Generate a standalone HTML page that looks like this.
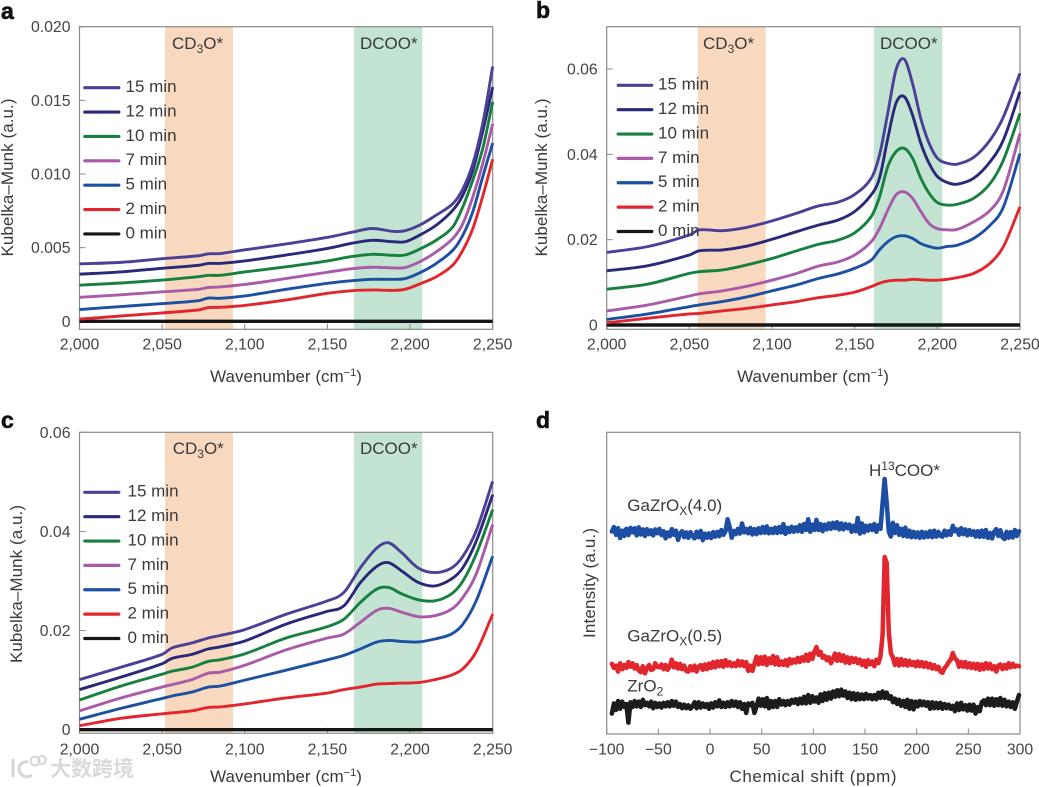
<!DOCTYPE html>
<html lang="en">
<head>
<meta charset="utf-8">
<title>Kubelka-Munk spectra and NMR</title>
<style>
html,body{margin:0;padding:0;background:#fff;}
svg{display:block;font-family:"Liberation Sans","Noto Sans CJK SC",sans-serif;}
.lbl{font-size:17px;fill:#3a3a3a;}
.tick{font-size:15.8px;fill:#444;}
.title{font-size:17px;fill:#3a3a3a;}
.letter{font-size:23px;font-weight:bold;fill:#111;stroke:#111;stroke-width:0.6;}
</style>
</head>
<body>
<svg id="fig" width="1039" height="787" viewBox="0 0 1039 787" xmlns="http://www.w3.org/2000/svg">
  <rect width="1039" height="787" fill="#fff"/>
  <g id="layer"></g>

  <text class="letter" x="1" y="19">a</text>
  <text class="letter" x="536" y="18">b</text>
  <text class="letter" x="1" y="428">c</text>
  <text class="letter" x="536" y="428">d</text>

  <text class="title" x="286" y="382" text-anchor="middle">Wavenumber (cm<tspan dy="-6" font-size="11">−1</tspan><tspan dy="6">)</tspan></text>
  <text class="title" x="813" y="382" text-anchor="middle">Wavenumber (cm<tspan dy="-6" font-size="11">−1</tspan><tspan dy="6">)</tspan></text>
  <text class="title" x="286" y="782" text-anchor="middle">Wavenumber (cm<tspan dy="-6" font-size="11">−1</tspan><tspan dy="6">)</tspan></text>
  <text class="title" x="813" y="782" text-anchor="middle" textLength="167">Chemical shift (ppm)</text>

  <text class="title" transform="translate(13 177.5) rotate(-90)" text-anchor="middle" textLength="158">Kubelka–Munk (a.u.)</text>
  <text class="title" transform="translate(547 177.5) rotate(-90)" text-anchor="middle" textLength="158">Kubelka–Munk (a.u.)</text>
  <text class="title" transform="translate(22 584) rotate(-90)" text-anchor="middle" textLength="158">Kubelka–Munk (a.u.)</text>
  <text class="title" transform="translate(595 583) rotate(-90)" text-anchor="middle" textLength="110">Intensity (a.u.)</text>

  <text x="50" y="776" font-size="21" font-weight="bold" fill="#dadada" font-family="&quot;Liberation Sans&quot;,&quot;Noto Sans CJK SC&quot;,sans-serif">大数跨境</text>
  <g fill="none" stroke="#d6d6d6" stroke-width="3">
    <path d="M13 759 V777"/>
    <path d="M28 762 C17 760 15 776 28 777 L32 775"/>
    <circle cx="35" cy="761" r="4.5" stroke-width="2"/>
    <circle cx="42" cy="760" r="4" stroke-width="2"/>
  </g>
</svg>
<script>
/* ---- panel a ---- */
var aWavenumbers = [2000,2025,2050,2072,2078,2085,2100,2125,2150,2165,2177,2190,2197,2206,2216,2226,2232,2238,2244,2250];
var a15 = [3.9,4.0,4.25,4.45,4.58,4.6,4.85,5.25,5.7,6.05,6.3,6.1,6.15,6.54,7.22,8.0,9.0,10.7,13.44,17.3];
var a12 = [3.2,3.35,3.6,3.8,3.93,3.93,4.1,4.5,4.95,5.3,5.5,5.4,5.4,5.86,6.54,7.56,8.58,10.27,12.9,15.9];
var a10 = [2.45,2.6,2.8,3.03,3.12,3.12,3.35,3.7,4.1,4.4,4.55,4.48,4.5,4.91,5.52,6.43,7.79,9.6,11.75,14.9];
var a7 = [1.63,1.8,2.0,2.17,2.3,2.33,2.5,2.9,3.33,3.57,3.67,3.62,3.65,4.05,4.73,5.64,6.65,8.46,10.73,13.4];
var a5 = [0.8,1.0,1.2,1.4,1.58,1.56,1.72,2.17,2.58,2.76,2.85,2.85,2.9,3.3,3.94,4.84,5.86,7.45,9.82,12.1];
var a2 = [0.15,0.36,0.57,0.77,0.93,0.95,1.08,1.45,1.9,2.08,2.13,2.1,2.17,2.54,3.03,3.83,4.84,6.3,8.5,11];
var a0 = [0,0,0,0,0,0,0,0,0,0,0,0,0,0,0,0,0,0,0,0];
var aYTicks = [0,5,10,15,20];
var aYLabels = ['0','0.005','0.010','0.015','0.020'];

/* ---- panel b ---- */
var bWavenumbers = [2000,2025,2050,2056,2070,2085,2100,2115,2128,2140,2150,2160,2165,2170,2175,2180,2185,2190,2195,2200,2206,2212,2222,2232,2240,2250];
var b15 = [17,18.4,21.1,22.3,22.1,22.9,24.4,26.2,27.9,28.8,30.6,34.4,39.8,49.6,59.8,62.3,56.6,48.4,42.6,39.1,37.9,37.7,39.3,43.4,48.8,59];
var b12 = [12.7,13.9,16.4,17.4,17.6,18.5,20.1,21.9,23.4,24.6,26.6,30.5,34.4,43.7,52,53.5,49.2,42.6,37.9,34.8,33.4,33,34.4,38.3,43.4,54.7];
var b10 = [8.4,9.6,12.1,12.5,12.9,14.1,15.6,17.4,18.9,19.9,21.6,25.4,30,37.1,40.6,41.4,39.1,34.4,30.9,28.7,28.1,28.3,29.7,33.2,38.7,49.6];
var b7 = [3.3,4.7,6.8,7.3,8,9.1,10.5,12.1,13.8,14.8,16.4,19.5,22.6,26.9,30.5,31.2,29.7,26.6,23.8,22.6,22.3,22.4,24.2,26.9,31.6,44.9];
var b5 = [1.3,2.6,4.3,4.7,5.5,6.6,8,9.4,10.9,12,13.3,15.2,17.6,19.5,20.7,20.9,20.3,19.1,18.4,18,18.4,18.7,20.3,23.4,27.7,40.2];
var b2 = [0.5,1.6,2.6,2.7,3.3,3.9,4.7,5.5,6.4,7,7.7,9,9.8,10.3,10.5,10.5,10.7,10.6,10.5,10.5,10.7,11.1,12.1,14.5,18.4,27.7];
var b0 = [0,0,0,0,0,0,0,0,0,0,0,0,0,0,0,0,0,0,0,0,0,0,0,0,0,0];
var bYTicks = [0,20,40,60];
var bYLabels = ['0','0.02','0.04','0.06'];

/* ---- panel c ---- */
var cWavenumbers = [2000,2025,2050,2056,2068,2078,2085,2100,2125,2150,2160,2170,2180,2187,2195,2205,2215,2225,2232,2240,2250];
var c15 = [10.1,12.6,15.2,16.5,17.5,18.5,19,20.2,23.3,26,27.7,32.7,36.7,37.7,35.7,32.6,31.7,32.6,35,40.1,50.1];
var c12 = [8.1,10.6,13.3,14.4,15.2,16.3,16.7,17.9,21.3,23.9,25,29.7,33,33.7,32,29.7,29,30.4,32.7,38,47.4];
var c10 = [6,8.8,11.2,11.8,12.6,13.8,14.1,15.3,18.5,20.8,22.3,25.7,28.4,28.7,27.4,26.2,26,27.4,30,35.4,44.4];
var c7 = [3.8,6.4,8.6,9.1,10.1,11.4,11.6,13,16.1,18.5,19.3,21.7,24.1,24.5,23.7,22.8,23,24.3,26.7,31.4,41.4];
var c5 = [2.1,4.3,6.3,6.8,7.6,8.6,8.8,10,12,14.1,15,16.3,17.7,18,17.8,17.7,18.3,19.3,21.3,26,35];
var c2 = [0.8,2.3,3.2,3.4,3.8,4.5,4.6,5.2,6.4,7.4,8.1,8.6,9.2,9.3,9.4,9.5,10.1,11,12.3,15.7,23.3];
var c0 = [0,0,0,0,0,0,0,0,0,0,0,0,0,0,0,0,0,0,0,0,0];
var cYTicks = [0,20,40,60];
var cYLabels = ['0','0.02','0.04','0.06'];

/* ---- shared ---- */
var xTicksWave = [2000,2050,2100,2150,2200,2250];
var xLabelsWave = ['2,000','2,050','2,100','2,150','2,200','2,250'];
var seriesLabels = ['15 min','12 min','10 min','7 min','5 min','2 min','0 min'];

/* ---- panel d: samples start at -95 ppm and advance 2 ppm each ---- */
var dStartPpm = -95;
var dStepPpm = 2;
var dBlue = [
67.5,69,66.4,68.6,65.3,67.8,66,68.4,66.3,68.7,
67.2,68.6,66.2,68.9,66.5,68.2,66,68.3,66.6,67.9,
66.2,68.2,66.9,68.4,66.3,67.6,65.2,67.2,65.9,68.3,
66.4,67.8,64.7,66.8,67.6,65.6,67.2,65.4,67.3,66,
65.2,67.4,65.6,67.7,64.6,66.8,65.4,66.9,65.3,67.3,
65.8,67.4,65.9,68,66.4,67.6,71.6,69,65.4,67.7,
66.6,68.4,66.8,70.2,67.2,68.4,66.9,68.7,66.5,68.3,
66.6,68.6,67,69,67.1,69.2,66.9,68.4,67,68.8,
67,69,67.2,70,66.7,68.7,67.3,69.1,67.4,68.9,
67.6,69.6,67.4,70,68,71.6,67.4,69.8,68,71.4,
68,70,67.6,69.8,68.2,70.2,68.4,70.4,68.6,70.6,
68.2,70.2,68.2,70,68.6,69.8,67.4,69.4,67.6,72,
66.8,70.2,67.2,69.4,67.8,69.6,68,70,67.4,69.6,
68.4,77,85,77,67.5,65.8,70.4,67,69.6,66.4,
68.4,66,68.8,65.8,67.8,65.6,67.4,65.6,67.2,65.4,
67.4,65.5,67.2,65.7,67.6,65.6,67.8,65.8,67.4,66,
65.8,67.8,66.2,67.6,66.4,69.4,67.6,68.2,66.4,68.6,
66.6,68.2,66.2,68,66.4,67.6,65.8,67.6,65.7,67.8,
65.7,68,65.4,67,65.2,67.4,68.3,66,67.9,65.6,
65,67.4,65.4,67.3,65.5,68,66,67.6];
var dRed = [
23.4,22,22.8,20.8,23.6,21.6,23,22,24,22.4,
23.6,21.8,23,21.2,20.6,22.6,20.2,22,23,21.4,
21.6,23.6,22.4,22.2,23.2,21.6,23,21.4,22.6,24.8,
22.2,23.6,21.8,23.4,21.6,22.8,21,20.8,22.6,21.2,
22.8,20.8,22.4,23,21.4,23.2,21.6,23.5,22,24,
22.2,24.2,22.6,24.3,22.4,24.6,22.8,24,22.6,23.6,
22.6,24.4,22.8,24.2,22.6,24,21,22.8,21,23.4,
25.8,23.2,25.6,23.4,25.8,23,25.2,23.6,26,23.2,
25.6,23,24.2,23,24.6,22.8,25,23.6,24.8,23.8,
25.4,24,25.6,24.4,26.4,24.4,26.8,25,27.4,29,
26.4,27.4,25.4,26,24.6,25.6,23.6,25,26.8,24.4,
26.6,24.4,26.2,23.8,25.6,23.6,25.4,24,25.2,23.6,
24.8,23,24.4,22.4,24.6,23.2,24.2,22.6,24.8,23.6,
26,33,59,57,34,27,25.5,23,25,22.8,
25,23,24.6,22.8,24.4,23,24,22.6,24.2,22.6,
24,22.4,23.8,22.2,23.4,21.8,23,21.6,22.4,20.8,
20.4,22,22.8,24,24.8,27,25.2,24.6,22.4,24,
22.4,24,22.2,23.6,22,23.4,21.8,23.4,21.4,23.2,
21.6,23.6,21.8,23.4,21.6,22.6,20.8,22.8,23.2,21.6,
23,21.8,23.6,22.2,23.4,22.4,22.8,22.6];
var dBlack = [
6.8,10.2,8,11,8.4,10.8,9,10,3.8,10.6,
9,11,9.2,10.8,9,11.4,9.6,10.4,9.2,10.8,
8.6,10.4,9,10.2,8.8,10.4,9.2,10.6,9.2,11,
9.4,10.8,9,10,8.6,9.8,8.6,9.6,8.4,9.2,
10.6,8.6,10.6,8.8,10.2,9,10,8.4,10.2,8.8,
10.6,9.2,11.2,9,10.4,9,10.6,9.2,11,9.4,
10.8,9,10.6,8.4,10,7,10.2,9.6,10.4,7,
9.2,11.8,9.4,11.6,9.2,12,8.6,11,9,11,
9,11.6,9.8,11,9.6,11,9.8,11.4,10.4,11.6,
10,11.8,10.2,12.4,10.2,13,10.4,12.6,10.8,12.2,
10.4,13.2,11,13.6,11.4,13.8,11.8,14.2,12.4,14.6,
12.6,14.8,12.8,14.2,12,13.8,11.6,13.6,11.4,13.4,
11.6,13.2,11.6,13.4,11.8,13,11.6,13,11.6,13.8,
12,14.2,12,13.8,11.8,12.6,10.6,11.8,10,11.4,
9.4,11,9,11.4,8.4,11,8.2,10.8,9.2,11,
9.6,10.8,9.4,10.6,8.4,10.6,8.6,10.4,8.6,10.4,
8.4,10,8.6,9.8,8.4,9.4,7.6,10.2,8,10.4,
8.2,9.6,7.8,9.8,7.8,9.8,6.8,9,7.6,10.6,
11.2,9.6,11.8,9.6,11.8,9.4,11.6,9.6,12,9.4,
11.4,9.2,10.8,9,10.6,8.4,10.8,13];
var dXTicks = [-100,-50,0,50,100,150,200,250,300];
var dXLabels = ['−100','−50','0','50','100','150','200','250','300'];

/* ---- drawing ---- */
var NS = 'http://www.w3.org/2000/svg';
var layer = document.getElementById('layer');
var palette = ['#4c4096','#2a2878','#17803f','#a95aa8','#1e50a2','#e2262e','#161616'];

function make(tag, attrs, parent) {
  var el = document.createElementNS(NS, tag);
  for (var k in attrs) { el.setAttribute(k, attrs[k]); }
  (parent || layer).appendChild(el);
  return el;
}
function linearScale(d0, d1, r0, r1) {
  return function (v) { return r0 + (v - d0) * (r1 - r0) / (d1 - d0); };
}
function smoothPath(xs, ys, sx, sy) {
  var p = xs.map(function (x, i) { return [sx(x), sy(ys[i])]; });
  var d = 'M' + p[0][0].toFixed(2) + ' ' + p[0][1].toFixed(2);
  for (var i = 0; i < p.length - 1; i++) {
    var a = p[Math.max(i - 1, 0)], b = p[i], c = p[i + 1], e = p[Math.min(i + 2, p.length - 1)];
    var h = c[0] - b[0];
    var m1 = (c[1] - a[1]) / Math.max(c[0] - a[0], 0.01);
    var m2 = (e[1] - b[1]) / Math.max(e[0] - b[0], 0.01);
    d += 'C' + (b[0] + h / 3).toFixed(2) + ' ' + (b[1] + m1 * h / 3).toFixed(2) + ' ' +
         (c[0] - h / 3).toFixed(2) + ' ' + (c[1] - m2 * h / 3).toFixed(2) + ' ' +
         c[0].toFixed(2) + ' ' + c[1].toFixed(2);
  }
  return d;
}
function noisePath(ys, sx, sy) {
  return ys.map(function (v, i) {
    return (i ? 'L' : 'M') + sx(dStartPpm + i * dStepPpm).toFixed(2) + ' ' + sy(v).toFixed(2);
  }).join('');
}
function drawFrame(prefix, box) {
  var el = make('rect', { x: box.l, y: box.t, width: box.r - box.l, height: box.b - box.t, fill: 'none', stroke: '#8a8a8a', 'stroke-width': 1.2 });
  
  
}
function drawXTicks(prefix, box, sx, ticks, labels, baseline) {
  ticks.forEach(function (t, i) {
    var tk = make('line', { x1: sx(t), x2: sx(t), y1: box.b, y2: box.b - 5.5, stroke: '#8a8a8a', 'stroke-width': 1 });
    
    
    var tx = make('text', { x: sx(t), y: baseline, 'text-anchor': 'middle', 'class': 'tick' });
    
    
    tx.textContent = labels[i];
  });
}
function drawYTicks(prefix, box, sy, ticks, labels) {
  ticks.forEach(function (t, i) {
    var tk = make('line', { x1: box.l, x2: box.l + 6, y1: sy(t), y2: sy(t), stroke: '#8a8a8a', 'stroke-width': 1 });
    
    
    var tx = make('text', { x: box.l - 9, y: sy(t) + 5.5, 'text-anchor': 'end', 'class': 'tick' });
    
    
    tx.textContent = labels[i];
  });
}
function addSubText(parent, before, sub, after, subDy) {
  var t1 = document.createTextNode(before);
  parent.appendChild(t1);
  var s = make('tspan', { dy: subDy, 'font-size': 12 }, parent);
  s.textContent = sub;
  var r = make('tspan', { dy: -subDy }, parent);
  r.textContent = after;
}
function drawSpectrumPanel(prefix, box, wn, series, yZeroPx, yTopValue, yTopPx, yTicks, yLabels, bands, legend, labelY, cd3x, dcoox, tickBaseline) {
  var sx = linearScale(2000, 2250, box.l, box.r);
  var sy = linearScale(0, yTopValue, yZeroPx, yTopPx);

  var b1 = make('rect', { x: bands.ox0, y: box.t, width: bands.ox1 - bands.ox0, height: box.b - box.t, fill: '#f8d9bf' });
  
  
  var b2 = make('rect', { x: bands.gx0, y: box.t, width: bands.gx1 - bands.gx0, height: box.b - box.t, fill: '#c3e4d2' });
  
  

  drawFrame(prefix, box);
  drawXTicks(prefix, box, sx, xTicksWave, xLabelsWave, tickBaseline);
  drawYTicks(prefix, box, sy, yTicks, yLabels);

  for (var i = series.length - 1; i >= 0; i--) {
    var c = make('path', { d: smoothPath(wn, series[i], sx, sy), fill: 'none', stroke: palette[i], 'stroke-width': i === 6 ? 3.4 : 2.9, 'stroke-linejoin': 'round', 'stroke-linecap': 'butt' });
    
    
  }

  seriesLabels.forEach(function (lab, i) {
    var y = legend.y0 + i * legend.dy;
    var sw = make('line', { x1: legend.x0, x2: legend.x1, y1: y, y2: y, stroke: palette[i], 'stroke-width': 3.2, 'stroke-linecap': 'round' });
    
    
    var t = make('text', { x: legend.tx, y: y + 4.4, 'class': 'lbl' });
    
    
    t.textContent = lab;
  });

  var cd = make('text', { x: cd3x, y: labelY, 'class': 'lbl' });
  
  
  addSubText(cd, 'CD', '3', 'O*', 4);
  var dc = make('text', { x: dcoox, y: labelY, 'class': 'lbl' });
  
  
  dc.textContent = 'DCOO*';
}

drawSpectrumPanel('panel-a', { l: 79.5, r: 492.7, t: 26.7, b: 329.3 }, aWavenumbers,
  [a15, a12, a10, a7, a5, a2, a0], 321.3, 20, 26.7, aYTicks, aYLabels,
  { ox0: 165, ox1: 233, gx0: 354, gx1: 422.3 },
  { x0: 84.8, x1: 118.8, tx: 125.5, y0: 87.7, dy: 24.37 }, 49, 172, 360, 349.5);

drawSpectrumPanel('panel-b', { l: 606.7, r: 1020, t: 26.7, b: 329.3 }, bWavenumbers,
  [b15, b12, b10, b7, b5, b2, b0], 325, 60, 69, bYTicks, bYLabels,
  { ox0: 697.7, ox1: 765.7, gx0: 874, gx1: 942.3 },
  { x0: 618.2, x1: 651.8, tx: 658, y0: 85.3, dy: 24.37 }, 49, 703, 880, 349.5);

drawSpectrumPanel('panel-c', { l: 79.5, r: 492.7, t: 432.3, b: 733.3 }, cWavenumbers,
  [c15, c12, c10, c7, c5, c2, c0], 729.7, 60, 432.3, cYTicks, cYLabels,
  { ox0: 165, ox1: 233, gx0: 354, gx1: 422.3 },
  { x0: 84.8, x1: 118.8, tx: 127.5, y0: 492.3, dy: 24.37 }, 454, 172.7, 360, 754.5);

(function drawPanelD() {
  var box = { l: 606.7, r: 1020, t: 432.3, b: 734 };
  var sx = linearScale(-100, 300, box.l, box.r);
  var sy = linearScale(0, 100, box.b, box.b - 300);
  drawFrame('panel-d', box);
  drawXTicks('panel-d', box, sx, dXTicks, dXLabels, 754.5);

  var traces = [dBlack, dRed, dBlue];
  var traceColors = ['#1c1c1c', '#e2262e', '#1d4ea3'];
  var traceNames = ['zro2', 'gazrox-0-5', 'gazrox-4-0'];
  traces.forEach(function (tr, i) {
    var p = make('path', { d: noisePath(tr, sx, sy), fill: 'none', stroke: traceColors[i], 'stroke-width': 4.5, 'stroke-linejoin': 'round', 'stroke-linecap': 'round' });
    
    
  });

  var l1 = make('text', { x: 627.3, y: 511, 'class': 'lbl' });
  
  
  addSubText(l1, 'GaZrO', 'X', '(4.0)', 4);
  var l2 = make('text', { x: 627.3, y: 641.7, 'class': 'lbl' });
  
  
  addSubText(l2, 'GaZrO', 'X', '(0.5)', 4);
  var l3 = make('text', { x: 627.3, y: 691.7, 'class': 'lbl' });
  
  
  addSubText(l3, 'ZrO', '2', '', 4);
  var l4 = make('text', { x: 869, y: 476, 'class': 'lbl' });
  
  
  addSubText(l4, 'H', '13', 'COO*', -6);
})();
</script>
</body>
</html>
